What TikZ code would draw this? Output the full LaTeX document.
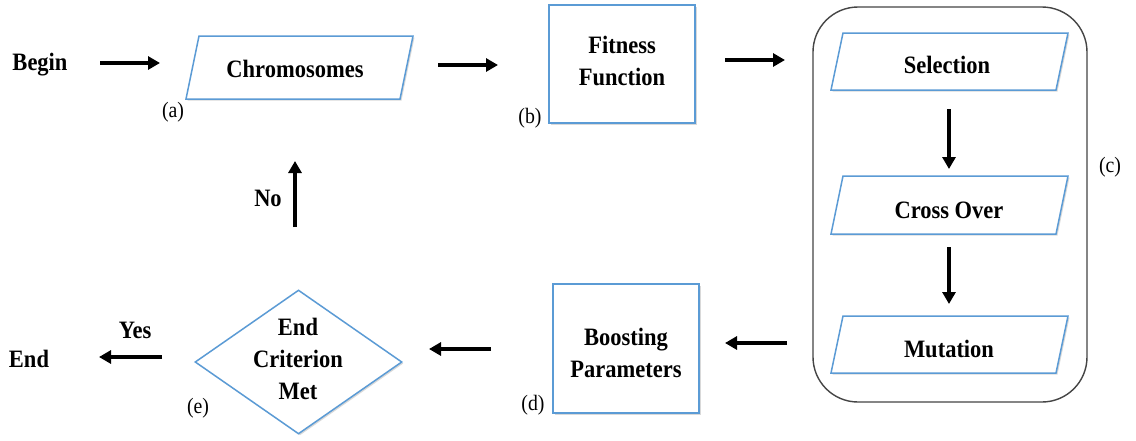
\documentclass[tikz,border=0pt]{standalone}
\usepackage{fontspec}
\usepackage{graphicx}
\setmainfont{Liberation Serif}
\newcommand\narw[1]{\scalebox{0.9}[1]{#1}}
\usetikzlibrary{arrows.meta,shapes.geometric,shadows,calc}
\definecolor{boxblue}{HTML}{5B9BD5}
\definecolor{framegray}{HTML}{454545}
\begin{document}
\begin{tikzpicture}[x=1pt,y=-1pt,
  lbl/.style={font=\fontsize{25}{32}\selectfont\bfseries, align=center, inner sep=0pt},
  tag/.style={font=\fontsize{22}{26}\selectfont, inner sep=0pt},
  shp/.style={draw=boxblue, line width=1.5pt, fill=white,
    drop shadow={shadow xshift=1.5pt,shadow yshift=-1.5pt,fill=black,opacity=0.15}},
  pbox/.style={inner sep=0pt, outer sep=0pt},
  arr/.style={line width=3.5pt, -{Triangle[length=12pt,width=13pt]}},
  container/.style={draw=framegray, line width=1.4pt, rounded corners=45pt, inner sep=0pt}
]
\fill[white] (0,0) rectangle (1136,440);
\useasboundingbox (0,0) rectangle (1136,440);

% container (c)
\node[container, minimum width=274pt, minimum height=395pt] (cbox) at (950,204.5) {};

% parallelogram frames (edge length x height), slant drawn around them
\node[pbox, minimum width=214pt, minimum height=63pt] (chromshape) at (299.5,67.5) {};
\node[pbox, minimum width=225pt, minimum height=57pt] (selshape) at (949.5,61.5) {};
\node[pbox, minimum width=225pt, minimum height=58pt] (crossshape) at (949.5,205) {};
\node[pbox, minimum width=225pt, minimum height=57pt] (mutshape) at (949.5,344.5) {};

\draw[shp] ($(chromshape.north west)+(6.5,0)$) -- ($(chromshape.north east)+(6.5,0)$)
  -- ($(chromshape.south east)+(-6.5,0)$) -- ($(chromshape.south west)+(-6.5,0)$) -- cycle;
\foreach \p in {selshape,crossshape,mutshape}{
  \draw[shp] ($(\p.north west)+(6,0)$) -- ($(\p.north east)+(6,0)$)
    -- ($(\p.south east)+(-6,0)$) -- ($(\p.south west)+(-6,0)$) -- cycle;
}

% boxes and diamond
\node[shp, minimum width=146pt, minimum height=118pt] (fitshape) at (622,64) {};
\node[shp, minimum width=146pt, minimum height=129pt] (boostshape) at (626,348.5) {};
\node[shp, diamond, inner sep=2pt, minimum width=207pt, minimum height=144pt] (diashape) at (298.5,362) {};

% texts
\node[lbl] (begin) at (40,65) {\narw{Begin}};
\node[lbl] (chrom) at (295,69) {\narw{Chromosomes}};
\node[lbl] (fit) at (622,61) {\narw{Fitness}\\\narw{Function}};
\node[lbl] (sel) at (947,65) {\narw{Selection}};
\node[lbl] (cross) at (949,210) {\narw{Cross Over}};
\node[lbl] (mut) at (949,349) {\narw{Mutation}};
\node[lbl] (boost) at (626,353) {\narw{Boosting}\\\narw{Parameters}};
\node[lbl] (dia) at (298,359) {\narw{End}\\\narw{Criterion}\\\narw{Met}};
\node[lbl] (yes) at (135,330) {\narw{Yes}};
\node[lbl] (endn) at (29,359) {\narw{End}};
\node[lbl] (no) at (268,198) {\narw{No}};

% tags
\node[tag] (ta) at (173,112) {\narw{(a)}};
\node[tag] (tb) at (530,118) {\narw{(b)}};
\node[tag] (tc) at (1110,167) {\narw{(c)}};
\node[tag] (td) at (533,405) {\narw{(d)}};
\node[tag] (te) at (198,408) {\narw{(e)}};

% arrow end points
\coordinate (a1s) at (100,63);  \coordinate (a1e) at (160,63);
\coordinate (a2s) at (438,65);  \coordinate (a2e) at (498,65);
\coordinate (a3s) at (725,60);  \coordinate (a3e) at (785,60);
\coordinate (a4s) at (949,109); \coordinate (a4e) at (949,169);
\coordinate (a5s) at (949,247); \coordinate (a5e) at (949,304);
\coordinate (a6s) at (787,343); \coordinate (a6e) at (725,343);
\coordinate (a7s) at (491,349); \coordinate (a7e) at (429,349);
\coordinate (a8s) at (162,357); \coordinate (a8e) at (99,357);
\coordinate (a9s) at (295,227); \coordinate (a9e) at (295,161);

\draw[arr] (a1s) -- (a1e);
\draw[arr] (a2s) -- (a2e);
\draw[arr] (a3s) -- (a3e);
\draw[arr] (a4s) -- (a4e);
\draw[arr] (a5s) -- (a5e);
\draw[arr] (a6s) -- (a6e);
\draw[arr] (a7s) -- (a7e);
\draw[arr] (a8s) -- (a8e);
\draw[arr] (a9s) -- (a9e);
\end{tikzpicture}
\end{document}
